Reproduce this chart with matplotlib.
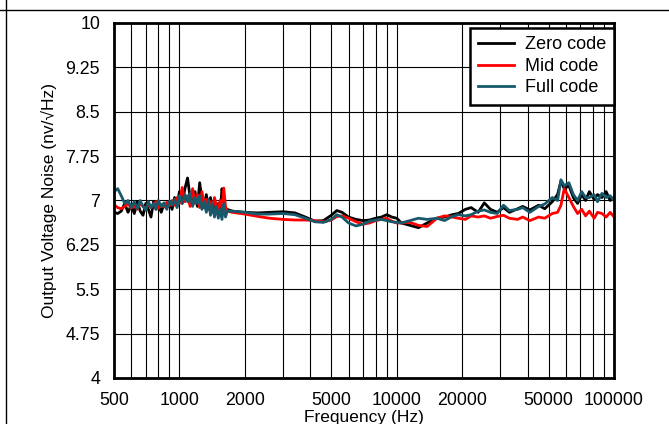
import matplotlib
matplotlib.use('Agg')
import matplotlib.pyplot as plt
from matplotlib.lines import Line2D
from matplotlib.ticker import FixedLocator, NullFormatter

plt.rcParams['font.family'] = ['Liberation Sans', 'DejaVu Sans']

# low frequency noisy part
freq_low = [500, 520, 540, 560, 580, 600, 620, 640, 660, 680, 700, 720, 740, 760, 780,
            800, 825, 850, 875, 900, 925, 950, 975, 1000, 1030, 1060, 1090, 1120, 1150,
            1180, 1210, 1240, 1270, 1300, 1330, 1360, 1390, 1420, 1450, 1480, 1510, 1540,
            1570, 1600, 1630, 1660]
zero_low = [6.80, 6.78, 6.82, 6.95, 6.80, 6.92, 6.78, 6.98, 6.82, 6.75, 6.95, 6.85, 6.72,
            6.98, 6.85, 6.92, 6.80, 6.95, 6.88, 6.98, 6.85, 7.05, 6.90, 7.15, 6.95, 7.20,
            7.38, 7.05, 6.95, 7.15, 6.90, 7.30, 7.00, 6.88, 7.10, 6.85, 7.05, 6.80, 7.00,
            6.85, 6.95, 6.80, 7.20, 7.00, 6.82, 6.85]
mid_low = [6.93, 6.88, 6.86, 6.90, 6.95, 6.87, 6.92, 6.85, 6.96, 6.90, 6.86, 6.94, 6.88,
           6.92, 6.98, 6.87, 6.93, 6.89, 6.97, 6.91, 7.00, 6.92, 7.05, 6.95, 7.22, 6.98,
           7.08, 6.90, 7.20, 6.95, 7.10, 6.88, 7.15, 6.92, 7.02, 6.86, 6.98, 6.84, 7.05,
           6.90, 6.85, 7.00, 6.88, 7.21, 6.90, 6.82]
full_low = [7.15, 7.20, 7.08, 6.95, 7.00, 6.88, 6.98, 6.86, 7.00, 6.90, 6.84, 6.98, 6.88,
            6.95, 6.86, 7.00, 6.90, 6.96, 6.85, 6.99, 6.92, 7.02, 6.88, 7.08, 6.96, 7.10,
            6.98, 7.12, 6.90, 7.05, 6.95, 7.08, 6.85, 6.98, 6.80, 7.02, 6.75, 6.95, 6.72,
            6.90, 6.70, 6.85, 6.68, 6.95, 6.72, 6.82]

# smooth middle part
freq_mid = [1750, 2000, 2300, 2600, 3000, 3400, 3800, 4200, 4600, 5000, 5300, 5600, 6000,
            6500, 7000, 7500, 8000, 8500, 9000, 9500, 10000]
zero_mid = [6.82, 6.80, 6.79, 6.80, 6.81, 6.79, 6.72, 6.65, 6.66, 6.75, 6.83, 6.80, 6.72,
            6.68, 6.66, 6.67, 6.70, 6.72, 6.76, 6.72, 6.70]
mid_mid = [6.80, 6.77, 6.73, 6.70, 6.68, 6.67, 6.67, 6.66, 6.64, 6.67, 6.73, 6.74, 6.70,
           6.64, 6.60, 6.62, 6.66, 6.68, 6.70, 6.65, 6.62]
full_mid = [6.82, 6.80, 6.77, 6.77, 6.78, 6.76, 6.70, 6.64, 6.63, 6.68, 6.76, 6.72, 6.62,
            6.57, 6.60, 6.65, 6.67, 6.68, 6.66, 6.64, 6.63]

# high frequency part
freq_high = [10500, 11500, 12600, 13800, 15300, 16600, 18000, 19200, 20700, 22000, 23700,
             25300, 27000, 29000, 31000, 33000, 36000, 38000, 41000, 45000, 48000, 52000,
             55000, 57000, 59000, 62000, 65000, 68000, 71000, 74000, 77000, 81000, 84000,
             88000, 92000, 96000, 100000]
zero_high = [6.62, 6.58, 6.54, 6.62, 6.70, 6.72, 6.76, 6.78, 6.85, 6.88, 6.80, 6.96, 6.85,
             6.80, 6.88, 6.80, 6.86, 6.90, 6.84, 6.92, 6.86, 6.98, 7.10, 7.33, 7.20, 7.25,
             7.05, 6.95, 7.10, 7.00, 7.15, 7.02, 7.10, 7.05, 7.15, 7.00, 7.05]
mid_high = [6.62, 6.63, 6.58, 6.56, 6.70, 6.74, 6.72, 6.70, 6.68, 6.74, 6.72, 6.74, 6.70,
            6.73, 6.75, 6.70, 6.68, 6.72, 6.66, 6.72, 6.70, 6.78, 6.80, 6.92, 7.20, 7.05,
            6.90, 6.78, 6.85, 6.74, 6.82, 6.70, 6.80, 6.78, 6.72, 6.80, 6.72]
full_high = [6.62, 6.66, 6.70, 6.68, 6.70, 6.66, 6.73, 6.76, 6.74, 6.76, 6.82, 6.84, 6.80,
             6.78, 6.92, 6.83, 6.85, 6.88, 6.80, 6.90, 6.94, 7.05, 7.00, 7.35, 7.25, 7.30,
             7.10, 7.00, 7.15, 7.05, 7.05, 7.10, 6.98, 7.12, 7.05, 7.08, 7.00]

freq = freq_low + freq_mid + freq_high
series = [('Zero code', zero_low + zero_mid + zero_high, 'black'),
          ('Mid code', mid_low + mid_mid + mid_high, '#ff0000'),
          ('Full code', full_low + full_mid + full_high, '#17596b')]

xticks = [500, 1000, 2000, 5000, 10000, 20000, 50000, 100000]
yticks = [4, 4.75, 5.5, 6.25, 7, 7.75, 8.5, 9.25, 10]
minor_x = [600, 700, 800, 900, 3000, 4000, 6000, 7000, 8000, 9000,
           30000, 40000, 60000, 70000, 80000, 90000]

fig = plt.figure(figsize=(6.69, 4.24), dpi=100)
ax = fig.add_axes([0.1704, 0.1085, 0.7474, 0.8373])

for name, vals, col in series:
    ax.plot(freq, vals, color=col, lw=2.0, label=name)

ax.set_xscale('log')
ax.set_xlim(500, 100000)
ax.set_ylim(4, 10)
ax.xaxis.set_major_locator(FixedLocator(xticks))
ax.xaxis.set_minor_locator(FixedLocator(minor_x))
ax.xaxis.set_minor_formatter(NullFormatter())
ax.set_xticklabels([str(t) for t in xticks])
ax.set_yticks(yticks)
ax.set_yticklabels(['4', '4.75', '5.5', '6.25', '7', '7.75', '8.5', '9.25', '10'])
ax.tick_params(which='both', length=0, labelsize=12.8, pad=10)
ax.grid(True, which='both', color='black', lw=0.8)
for s in ax.spines.values():
    s.set_linewidth(2)

ax.set_xlabel('Frequency (Hz)', fontsize=12.5, labelpad=1)
ax.set_ylabel('Output Voltage Noise (nv/\u221aHz)', fontsize=12.5, labelpad=6)

leg = ax.legend(loc='upper right', bbox_to_anchor=(1.0, 0.985), fontsize=13,
                frameon=True, fancybox=False, borderaxespad=0.0, handlelength=2.0,
                handletextpad=0.6, labelspacing=0.25, borderpad=0.45, framealpha=1)
leg.get_frame().set_edgecolor('black')
leg.get_frame().set_linewidth(1.8)
for h in leg.legend_handles:
    h.set_linewidth(2)

# outer frame lines
fig.add_artist(Line2D([0, 1], [1 - 10 / 424, 1 - 10 / 424], color='black', lw=1))
fig.add_artist(Line2D([6 / 669, 6 / 669], [0, 1], color='black', lw=1))

fig.savefig('out.png', dpi=100)
